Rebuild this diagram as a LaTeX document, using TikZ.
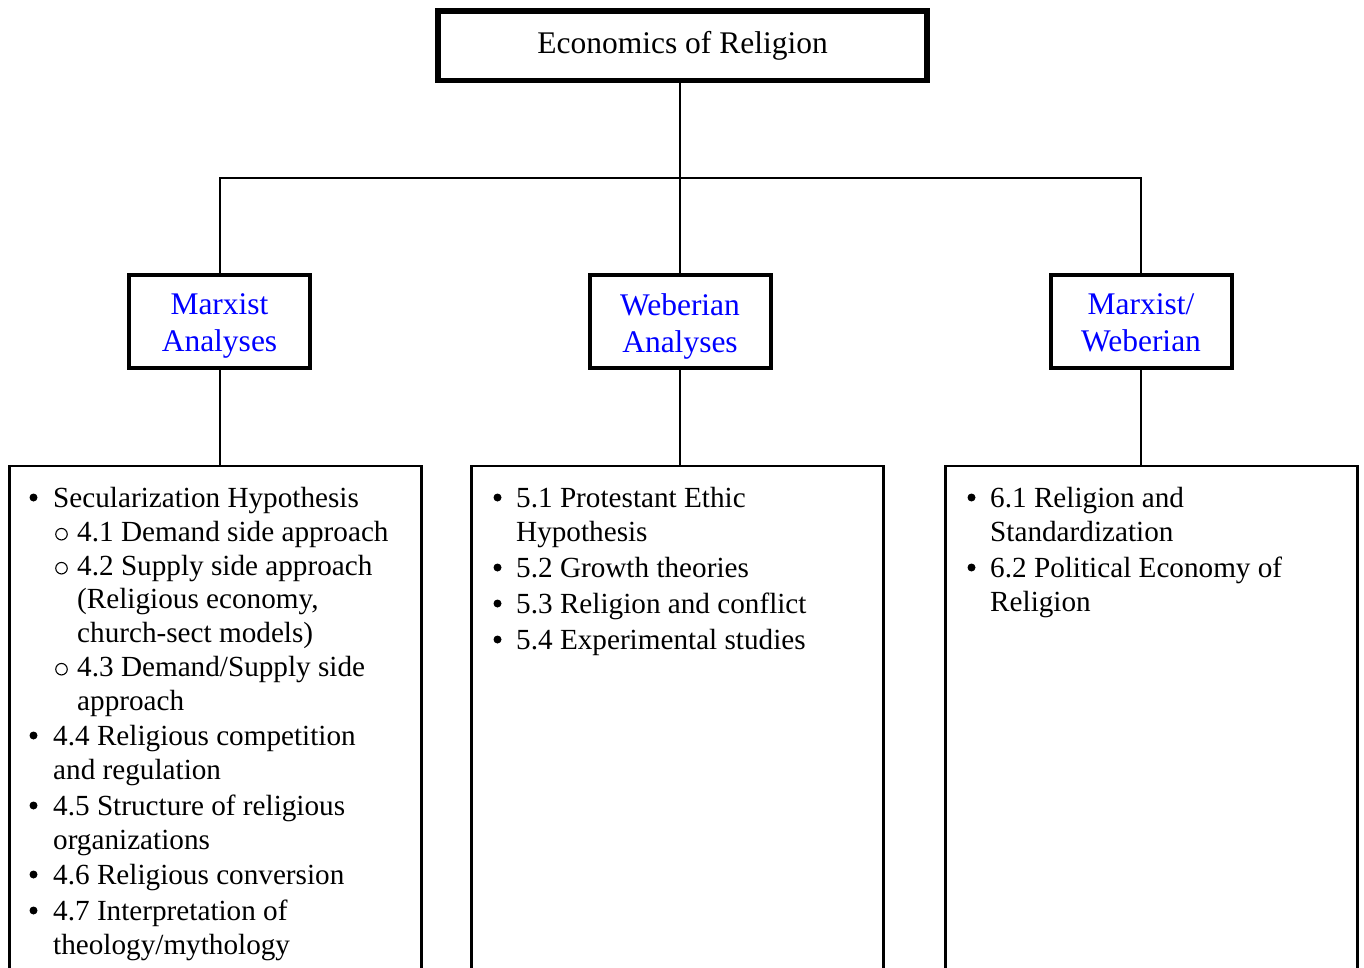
\documentclass[tikz,border=0pt]{standalone}
\usepackage{fontspec}
\setmainfont{Liberation Serif}
\begin{document}
\begin{tikzpicture}[x=1pt,y=-1pt,
  topbox/.style={draw, line width=5.5pt, inner sep=0pt, outer sep=0pt, minimum width=489pt, minimum height=69.5pt, font=\fontsize{31.5}{37}\selectfont},
  midbox/.style={draw, line width=4pt, inner sep=0pt, outer sep=0pt, minimum width=181pt, minimum height=93pt},
  midtext/.style={inner sep=0pt, align=center, text=blue, font=\fontsize{31.5}{37}\selectfont},
  listbox/.style={draw, line width=2.5pt, inner sep=0pt, outer sep=0pt, minimum width=412pt, minimum height=540pt, anchor=north west},
  item/.style={anchor=base west, inner sep=0pt, font=\fontsize{29.2}{34.4}\selectfont},
  dot/.style={circle, fill, inner sep=0pt, minimum size=8pt, yshift=9.5pt},
  ring/.style={circle, draw, line width=1.1pt, inner sep=0pt, minimum size=11.5pt, yshift=6.8pt},
  conn/.style={line width=2pt}]
\useasboundingbox (0,0) rectangle (1364,968);
\fill[white] (0,0) rectangle (1364,968);
\clip (0,0) rectangle (1364,968);

% boxes
\node[topbox] (root) at (682.5,45.75) {Economics of Religion};
\node[midbox] (mx) at (219.5,321.5) {};
\node[midbox] (wb) at (680,321.5) {};
\node[midbox] (mw) at (1141,321.5) {};
\node[midtext, yshift=-4.5pt] (mxt) at (mx) {Marxist\\Analyses};
\node[midtext, yshift=-4.5pt] (wbt) at (wb) {Weberian\\Analyses};
\node[midtext, yshift=-1.5pt] (mwt) at (mw) {Marxist/\\Weberian};
\node[listbox] (lb) at (9.5,466) {};
\node[listbox] (mb) at (471.5,466) {};
\node[listbox] (rb) at (945.5,466) {};

% connectors
\coordinate (jy) at (0,178);
\coordinate (j) at (wb.north |- jy);
\draw[conn] (root.south -| j) -- (j);
\draw[conn] (mx.north) |- (j) -| (mw.north);
\draw[conn] (j) -- (wb.north);
\draw[conn] (mx.south) -- (mx.south |- lb.north);
\draw[conn] (wb.south) -- (wb.south |- mb.north);
\draw[conn] (mw.south) -- (mw.south |- rb.north);

% left list
\node[dot]  (lb1) at (33.5,507) {};
\node[item] (lt1) at (53,507) {Secularization Hypothesis};
\node[ring] (ls1) at (61.5,541) {};
\node[item] (lt2) at (77,541) {4.1 Demand side approach};
\node[ring] (ls2) at (61.5,575) {};
\node[item] (lt3) at (77,575) {4.2 Supply side approach};
\node[item] (lt3b) at (77,608) {(Religious economy,};
\node[item] (lt3c) at (77,642) {church-sect models)};
\node[ring] (ls3) at (61.5,676) {};
\node[item] (lt4) at (77,676) {4.3 Demand/Supply side};
\node[item] (lt4b) at (77,710) {approach};
\node[dot]  (lb2) at (33.5,745) {};
\node[item] (lt5) at (53,745) {4.4 Religious competition};
\node[item] (lt5b) at (53,779) {and regulation};
\node[dot]  (lb3) at (33.5,815) {};
\node[item] (lt6) at (53,815) {4.5 Structure of religious};
\node[item] (lt6b) at (53,849) {organizations};
\node[dot]  (lb4) at (33.5,884) {};
\node[item] (lt7) at (53,884) {4.6 Religious conversion};
\node[dot]  (lb5) at (33.5,920) {};
\node[item] (lt8) at (53,920) {4.7 Interpretation of};
\node[item] (lt8b) at (53,954) {theology/mythology};

% middle list
\node[dot]  (mb1) at (497.5,507) {};
\node[item] (mt1) at (516,507) {5.1 Protestant Ethic};
\node[item] (mt1b) at (516,541) {Hypothesis};
\node[dot]  (mb2) at (497.5,577) {};
\node[item] (mt2) at (516,577) {5.2 Growth theories};
\node[dot]  (mb3) at (497.5,613) {};
\node[item] (mt3) at (516,613) {5.3 Religion and conflict};
\node[dot]  (mb4) at (497.5,649) {};
\node[item] (mt4) at (516,649) {5.4 Experimental studies};

% right list
\node[dot]  (rb1) at (971.5,507) {};
\node[item] (rt1) at (990,507) {6.1 Religion and};
\node[item] (rt1b) at (990,541) {Standardization};
\node[dot]  (rb2) at (971.5,577) {};
\node[item] (rt2) at (990,577) {6.2 Political Economy of};
\node[item] (rt2b) at (990,611) {Religion};
\end{tikzpicture}
\end{document}
